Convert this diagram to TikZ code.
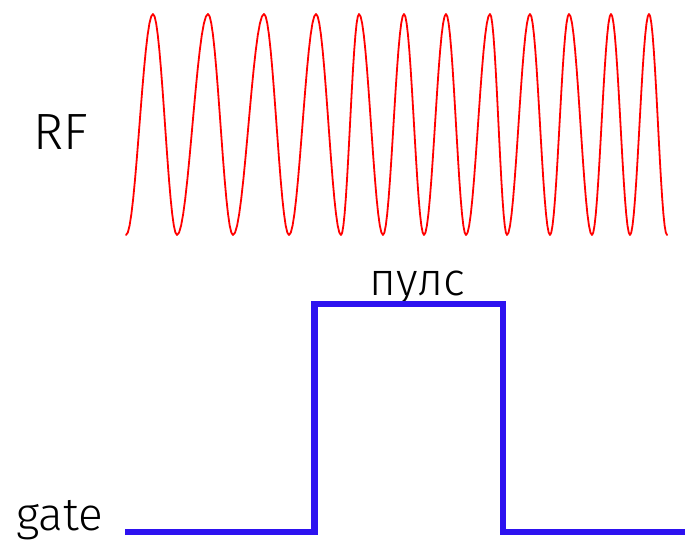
\documentclass[tikz,border=0pt]{standalone}
\usepackage{fontspec}
\setmainfont{Fira Sans}[UprightFont={* Light}]
\usepackage{xcolor}
\definecolor{rfred}{RGB}{255,0,0}
\definecolor{gateblue}{RGB}{45,18,240}
\tikzset{
  rfwave/.style={rfred, line width=1.8pt, line join=round, line cap=round},
  gatewave/.style={gateblue, line width=6.5pt, line join=miter},
  siglabel/.style={font=\fontsize{46}{50}\selectfont, inner sep=0pt, anchor=base}
}

\begin{document}
\begin{tikzpicture}[x=1pt, y=-1pt]
\useasboundingbox (0, 0) rectangle (685, 546);
%%% The labels of the two signals
\node[siglabel, font=\fontsize{51}{55}\selectfont] (rf) at (60.5, 149) {RF};
\node[siglabel] (gate) at (59.5, 530) {gate};
\node[siglabel] (pulse) at (417.5, 295) {пулс};
%%%%%% The RF carrier, one half period between each pair of x values
\draw[rfwave] (126, 235)
  \foreach \xa/\xb [count=\i, evaluate=\i as \sgn using {2*mod(\i,2)-1}] in
  {126/153, 153/177, 177/208, 208/233, 233/264, 264/289, 289/316, 316/341,
   341/359, 359/383, 383/404, 404/424, 424/446, 446/466, 466/490, 490/507,
   507/530, 530/550, 550/569, 569/592, 592/611, 611/630, 630/649, 649/667}
  { -- plot[domain=0:1, samples=16] ({\xa+(\xb-\xa)*\x}, {124.5+\sgn*110.5*cos(180*\x)}) };
%%%%%% The gate pulse
\coordinate (g0) at (125, 532);
\coordinate (g1) at (314.5, 532);
\coordinate (g2) at (314.5, 304);
\coordinate (g3) at (503, 304);
\coordinate (g4) at (503, 532);
\coordinate (g5) at (685, 532);
\draw[gatewave] (g0) -- (g1) -- (g2) -- (g3) -- (g4) -- (g5);
\end{tikzpicture}
\end{document}
